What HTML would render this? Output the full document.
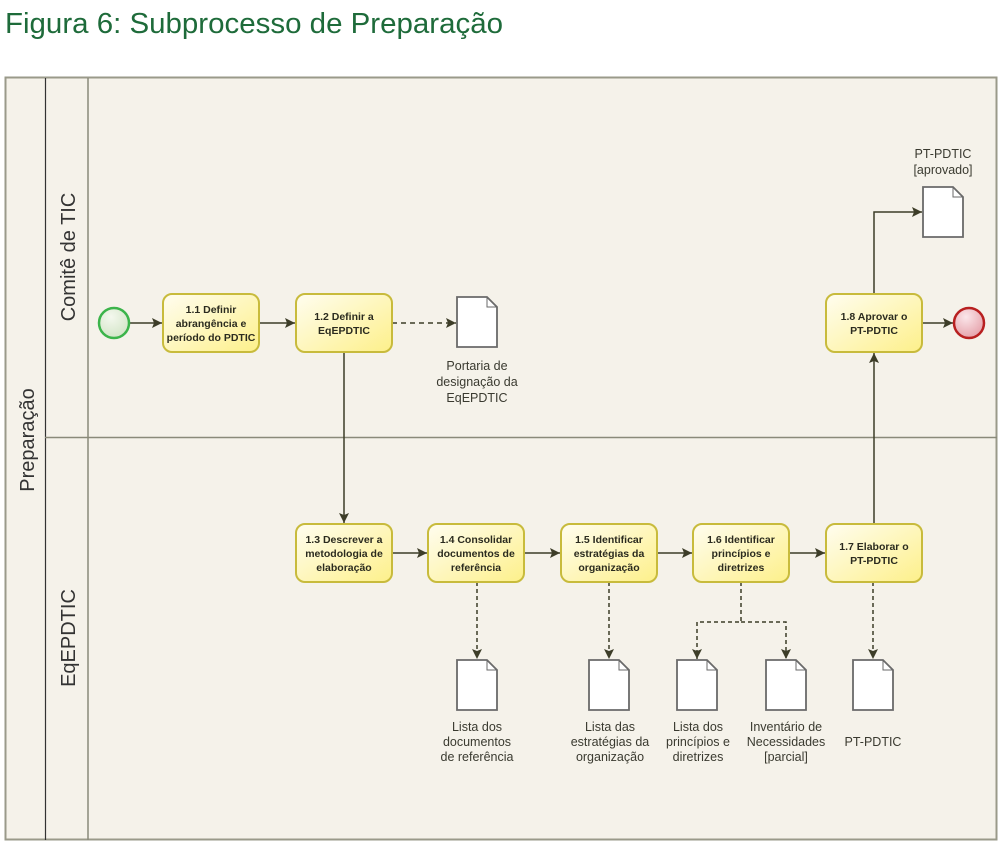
<!DOCTYPE html>
<html><head><meta charset="utf-8"><style>
html,body{margin:0;padding:0;background:#fff;}
svg{display:block;font-family:"Liberation Sans",sans-serif;}
.t{font-size:10.5px;fill:#2b2b1f;font-weight:bold;text-anchor:middle;}
.l{font-size:12.5px;fill:#3a3a30;text-anchor:middle;}
</style></head><body>
<svg width="1005" height="844" viewBox="0 0 1005 844" xmlns="http://www.w3.org/2000/svg">
<defs>
<linearGradient id="g" x1="0" y1="0" x2="1" y2="1">
<stop offset="0" stop-color="#fffdf0"/><stop offset="1" stop-color="#fdf08a"/></linearGradient>
<radialGradient id="gs" cx="0.4" cy="0.3" r="0.8"><stop offset="0" stop-color="#f4f8ee"/><stop offset="1" stop-color="#cfe3c3"/></radialGradient>
<radialGradient id="ge" cx="0.4" cy="0.3" r="0.8"><stop offset="0" stop-color="#fbe6ea"/><stop offset="1" stop-color="#e39aa3"/></radialGradient>
<marker id="a" viewBox="0 0 10 10" refX="10" refY="5" markerWidth="10" markerHeight="10" markerUnits="userSpaceOnUse" orient="auto"><path d="M0,0 L10,5 L0,10 L2,5 z" fill="#3d3d28"/></marker>
<g id="doc"><path d="M0,0 H30 L40,10 V50 H0 Z" fill="#fff" stroke="#6a6a6a" stroke-width="1.8"/><path d="M30,0 V10 H40" fill="none" stroke="#6a6a6a" stroke-width="1"/></g>
</defs>
<text x="5" y="33" font-size="29" fill="#1e6b3a" textLength="498" lengthAdjust="spacingAndGlyphs">Figura 6: Subprocesso de Preparação</text>
<rect x="5.5" y="77.5" width="991" height="762" fill="#f5f2ea" stroke="#9a9a8a" stroke-width="2"/>
<line x1="45.5" y1="78" x2="45.5" y2="840" stroke="#333" stroke-width="1.2"/>
<line x1="88" y1="78" x2="88" y2="840" stroke="#8a8a7a" stroke-width="1.5"/>
<line x1="45" y1="437.5" x2="997" y2="437.5" stroke="#8a8a7a" stroke-width="1.5"/>
<text transform="translate(34,440) rotate(-90)" font-size="20" fill="#333" text-anchor="middle">Preparação</text>
<text transform="translate(75,257) rotate(-90)" font-size="20" fill="#333" text-anchor="middle">Comitê de TIC</text>
<text transform="translate(75,638) rotate(-90)" font-size="20" fill="#333" text-anchor="middle">EqEPDTIC</text>

<g stroke="#3d3d28" stroke-width="1.5" fill="none">
<line x1="129" y1="323" x2="162" y2="323" marker-end="url(#a)"/>
<line x1="259" y1="323" x2="295" y2="323" marker-end="url(#a)"/>
<line x1="392" y1="323" x2="456" y2="323" stroke-dasharray="5,4" marker-end="url(#a)"/>
<line x1="344" y1="352" x2="344" y2="523" marker-end="url(#a)"/>
<line x1="392" y1="553" x2="427" y2="553" marker-end="url(#a)"/>
<line x1="524" y1="553" x2="560" y2="553" marker-end="url(#a)"/>
<line x1="657" y1="553" x2="692" y2="553" marker-end="url(#a)"/>
<line x1="789" y1="553" x2="825" y2="553" marker-end="url(#a)"/>
<line x1="874" y1="524" x2="874" y2="353" marker-end="url(#a)"/>
<polyline points="874,294 874,212 922,212" marker-end="url(#a)"/>
<line x1="922" y1="323" x2="953" y2="323" marker-end="url(#a)"/>
<g stroke-dasharray="4,3">
<line x1="477" y1="582" x2="477" y2="659" marker-end="url(#a)"/>
<line x1="609" y1="582" x2="609" y2="659" marker-end="url(#a)"/>
<polyline points="741,582 741,622 697,622 697,659" marker-end="url(#a)"/>
<polyline points="741,622 786,622 786,659" marker-end="url(#a)"/>
<line x1="873" y1="582" x2="873" y2="659" marker-end="url(#a)"/>
</g></g>

<circle cx="114" cy="323" r="15" fill="url(#gs)" stroke="#3cb44b" stroke-width="2.5"/>
<circle cx="969" cy="323" r="15" fill="url(#ge)" stroke="#b82020" stroke-width="2.5"/>

<g fill="url(#g)" stroke="#c8bb3c" stroke-width="2">
<rect x="163" y="294" width="96" height="58" rx="9"/>
<rect x="296" y="294" width="96" height="58" rx="9"/>
<rect x="826" y="294" width="96" height="58" rx="9"/>
<rect x="296" y="524" width="96" height="58" rx="9"/>
<rect x="428" y="524" width="96" height="58" rx="9"/>
<rect x="561" y="524" width="96" height="58" rx="9"/>
<rect x="693" y="524" width="96" height="58" rx="9"/>
<rect x="826" y="524" width="96" height="58" rx="9"/>
</g>
<text class="t"><tspan x="211" y="313">1.1 Definir</tspan><tspan x="211" y="327">abrangência e</tspan><tspan x="211" y="341">período do PDTIC</tspan></text>
<text class="t"><tspan x="344" y="320">1.2 Definir a</tspan><tspan x="344" y="334">EqEPDTIC</tspan></text>
<text class="t"><tspan x="874" y="320">1.8 Aprovar o</tspan><tspan x="874" y="334">PT-PDTIC</tspan></text>
<text class="t"><tspan x="344" y="543">1.3 Descrever a</tspan><tspan x="344" y="557">metodologia de</tspan><tspan x="344" y="571">elaboração</tspan></text>
<text class="t"><tspan x="476" y="543">1.4 Consolidar</tspan><tspan x="476" y="557">documentos de</tspan><tspan x="476" y="571">referência</tspan></text>
<text class="t"><tspan x="609" y="543">1.5 Identificar</tspan><tspan x="609" y="557">estratégias da</tspan><tspan x="609" y="571">organização</tspan></text>
<text class="t"><tspan x="741" y="543">1.6 Identificar</tspan><tspan x="741" y="557">princípios e</tspan><tspan x="741" y="571">diretrizes</tspan></text>
<text class="t"><tspan x="874" y="550">1.7 Elaborar o</tspan><tspan x="874" y="564">PT-PDTIC</tspan></text>

<use href="#doc" x="457" y="297"/>
<use href="#doc" x="923" y="187"/>
<use href="#doc" x="457" y="660"/>
<use href="#doc" x="589" y="660"/>
<use href="#doc" x="677" y="660"/>
<use href="#doc" x="766" y="660"/>
<use href="#doc" x="853" y="660"/>

<text class="l"><tspan x="477" y="370">Portaria de</tspan><tspan x="477" y="386">designação da</tspan><tspan x="477" y="402">EqEPDTIC</tspan></text>
<text class="l"><tspan x="943" y="158">PT-PDTIC</tspan><tspan x="943" y="174">[aprovado]</tspan></text>
<text class="l"><tspan x="477" y="731">Lista dos</tspan><tspan x="477" y="746">documentos</tspan><tspan x="477" y="761">de referência</tspan></text>
<text class="l"><tspan x="610" y="731">Lista das</tspan><tspan x="610" y="746">estratégias da</tspan><tspan x="610" y="761">organização</tspan></text>
<text class="l"><tspan x="698" y="731">Lista dos</tspan><tspan x="698" y="746">princípios e</tspan><tspan x="698" y="761">diretrizes</tspan></text>
<text class="l"><tspan x="786" y="731">Inventário de</tspan><tspan x="786" y="746">Necessidades</tspan><tspan x="786" y="761">[parcial]</tspan></text>
<text class="l" x="873" y="746">PT-PDTIC</text>
</svg>
</body></html>
